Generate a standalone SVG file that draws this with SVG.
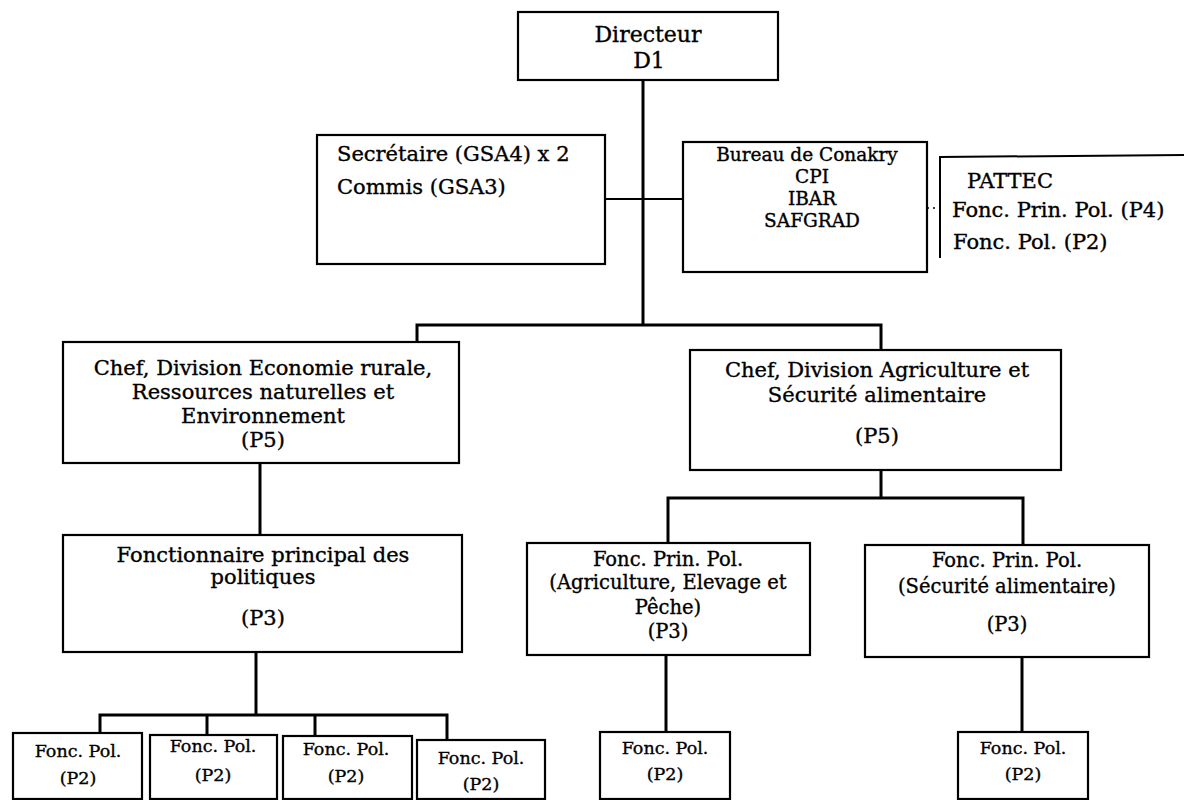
<svg xmlns="http://www.w3.org/2000/svg" width="1184" height="800" viewBox="0 0 1184 800">
<style>
.box{fill:#fff;stroke:#000;stroke-width:2.2}
.ln{fill:none;stroke:#000;stroke-width:3}
.thin{fill:none;stroke:#000;stroke-width:2}
.dot{fill:none;stroke:#000;stroke-width:1.5;stroke-dasharray:2 4}
text{font-family:"DejaVu Serif","Liberation Serif",serif;fill:#000;stroke:#000;stroke-width:0.35}
.c{text-anchor:middle}
.t22{font-size:22px}
.t21{font-size:21px}
.t19{font-size:18.5px}
.t195{font-size:19.5px}
.t18{font-size:17.5px}
</style>
<rect width="1184" height="800" fill="#fff"/>
<g id="connectors">
<line class="ln" x1="643" y1="80" x2="643" y2="325"/>
<line class="thin" x1="605" y1="199" x2="683" y2="199"/>
<line class="dot" x1="927" y1="208" x2="940" y2="208"/>
<path class="ln" d="M417 342 V325 H881 V350"/>
<line class="ln" x1="260" y1="463" x2="260" y2="535"/>
<line class="ln" x1="256" y1="652" x2="256" y2="715"/>
<path class="ln" d="M100 733 V715 H447 V740"/>
<line class="ln" x1="207" y1="715" x2="207" y2="735"/>
<line class="ln" x1="315" y1="715" x2="315" y2="736"/>
<line class="ln" x1="881" y1="470" x2="881" y2="498"/>
<path class="ln" d="M668 543 V498 H1023 V545"/>
<line class="ln" x1="666" y1="655" x2="666" y2="732"/>
<line class="ln" x1="1022" y1="647" x2="1022" y2="732"/>
</g>
<g id="directeur">
<rect class="box" x="518" y="12" width="260" height="68"/>
<text class="c t22" x="648" y="42">Directeur</text>
<text class="c t22" x="649" y="68">D1</text>
</g>
<g id="secretaire">
<rect class="box" x="317" y="135" width="288" height="129"/>
<text class="t21" x="337" y="161">Secrétaire (GSA4) x 2</text>
<text class="t21" x="337" y="194">Commis (GSA3)</text>
</g>
<g id="bureau">
<rect class="box" x="683" y="142" width="244" height="130"/>
<text class="c t19" x="807" y="161">Bureau de Conakry</text>
<text class="c t19" x="812" y="183">CPI</text>
<text class="c t19" x="812" y="205">IBAR</text>
<text class="c t19" x="812" y="227">SAFGRAD</text>
</g>
<g id="pattec">
<path class="thin" d="M1184 155 L940 157 V258"/>
<text class="t21" x="967" y="188">PATTEC</text>
<text class="t21" x="952" y="217">Fonc. Prin. Pol. (P4)</text>
<text class="t21" x="953" y="249">Fonc. Pol. (P2)</text>
</g>
<g id="chef-economie">
<rect class="box" x="63" y="342" width="396" height="121"/>
<text class="c t21" x="263" y="375">Chef, Division Economie rurale,</text>
<text class="c t21" x="263" y="399">Ressources naturelles et</text>
<text class="c t21" x="263" y="423">Environnement</text>
<text class="c t21" x="263" y="447">(P5)</text>
</g>
<g id="chef-agriculture">
<rect class="box" x="690" y="350" width="371" height="120"/>
<text class="c t21" x="877" y="377">Chef, Division Agriculture et</text>
<text class="c t21" x="877" y="402">Sécurité alimentaire</text>
<text class="c t21" x="877" y="443">(P5)</text>
</g>
<g id="fonctionnaire-principal">
<rect class="box" x="63" y="535" width="399" height="117"/>
<text class="c t21" x="263" y="562">Fonctionnaire principal des</text>
<text class="c t21" x="263" y="584">politiques</text>
<text class="c t21" x="263" y="625">(P3)</text>
</g>
<g id="fpp-agriculture">
<rect class="box" x="527" y="543" width="283" height="112"/>
<text class="c t195" x="668" y="566">Fonc. Prin. Pol.</text>
<text class="c t195" x="668" y="589">(Agriculture, Elevage et</text>
<text class="c t195" x="668" y="614">Pêche)</text>
<text class="c t195" x="668" y="638">(P3)</text>
</g>
<g id="fpp-securite">
<rect class="box" x="865" y="545" width="284" height="112"/>
<text class="c t195" x="1007" y="567">Fonc. Prin. Pol.</text>
<text class="c t195" x="1007" y="593">(Sécurité alimentaire)</text>
<text class="c t195" x="1007" y="631">(P3)</text>
</g>
<g id="fp-1">
<rect class="box" x="13" y="733" width="129" height="66"/>
<text class="c t18" x="78" y="757">Fonc. Pol.</text>
<text class="c t18" x="78" y="784">(P2)</text>
</g>
<g id="fp-2">
<rect class="box" x="150" y="735" width="127" height="64"/>
<text class="c t18" x="213" y="752">Fonc. Pol.</text>
<text class="c t18" x="213" y="781">(P2)</text>
</g>
<g id="fp-3">
<rect class="box" x="283" y="736" width="129" height="63"/>
<text class="c t18" x="346" y="755">Fonc. Pol.</text>
<text class="c t18" x="346" y="782">(P2)</text>
</g>
<g id="fp-4">
<rect class="box" x="417" y="740" width="128" height="59"/>
<text class="c t18" x="481" y="764">Fonc. Pol.</text>
<text class="c t18" x="481" y="790">(P2)</text>
</g>
<g id="fp-5">
<rect class="box" x="600" y="732" width="130" height="67"/>
<text class="c t18" x="665" y="754">Fonc. Pol.</text>
<text class="c t18" x="665" y="780">(P2)</text>
</g>
<g id="fp-6">
<rect class="box" x="958" y="732" width="130" height="67"/>
<text class="c t18" x="1023" y="754">Fonc. Pol.</text>
<text class="c t18" x="1023" y="780">(P2)</text>
</g>
</svg>
